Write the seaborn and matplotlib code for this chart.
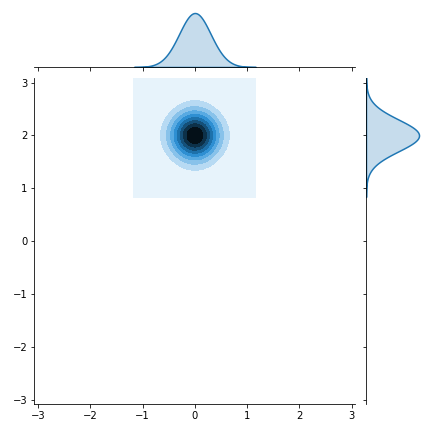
import numpy as np
import matplotlib
matplotlib.use("Agg")
import matplotlib.pyplot as plt
import seaborn as sns

# sample points (x centred on 0, y centred on 2)
x_vals = [0.05, -0.05, 0.05, -0.05, 0.02, -0.02, 0.02, -0.02,
          0.12, -0.12, 0.12, -0.12, 0.05, -0.05, 0.05, -0.05,
          0.17, -0.17, 0.17, -0.17, 0.12, -0.12, 0.12, -0.12,
          0.25, -0.25, 0.25, -0.25, 0.06, -0.06, 0.06, -0.06,
          0.30, -0.30, 0.30, -0.30, 0.18, -0.18, 0.18, -0.18,
          0.45, -0.45, 0.45, -0.45, 0.10, -0.10, 0.10, -0.10]
y_vals = [2.02, 2.02, 1.98, 1.98, 2.05, 2.05, 1.95, 1.95,
          2.05, 2.05, 1.95, 1.95, 2.12, 2.12, 1.88, 1.88,
          2.12, 2.12, 1.88, 1.88, 2.17, 2.17, 1.83, 1.83,
          2.06, 2.06, 1.94, 1.94, 2.25, 2.25, 1.75, 1.75,
          2.18, 2.18, 1.82, 1.82, 2.30, 2.30, 1.70, 1.70,
          2.10, 2.10, 1.90, 1.90, 2.45, 2.45, 1.55, 1.55]
x_ticks = [-3, -2, -1, 0, 1, 2, 3]
y_ticks = [-3, -2, -1, 0, 1, 2, 3]

base = sns.color_palette()[0]
# white -> blue -> black ramp like the old jointplot kde colormap
shades = [sns.utils.set_hls_values(base, l=l) for l in np.linspace(1, 0, 12)]
cmap = sns.blend_palette(shades, as_cmap=True)

g = sns.JointGrid(x=x_vals, y=y_vals, height=6, ratio=5, space=0.2)
g.plot_joint(sns.kdeplot, fill=True, thresh=0, levels=10, cmap=cmap,
             bw_adjust=2.3)
g.plot_marginals(sns.kdeplot, fill=True, color=base, linewidth=1.5,
                 bw_adjust=2.6)

# place the three axes like the reference
g.ax_joint.set_position([0.0794, 0.0648, 0.7435, 0.7539])
g.ax_marg_x.set_position([0.0794, 0.8449, 0.7435, 0.1312])
g.ax_marg_y.set_position([0.8472, 0.0648, 0.1289, 0.7539])

g.ax_joint.set_xlim(-3.075, 3.075)
g.ax_joint.set_ylim(-3.08, 3.08)
g.ax_joint.set_xticks(x_ticks)
g.ax_joint.set_yticks(y_ticks)
g.ax_joint.set_xlabel('')
g.ax_joint.set_ylabel('')

g.figure.savefig('out.png', dpi=72)
